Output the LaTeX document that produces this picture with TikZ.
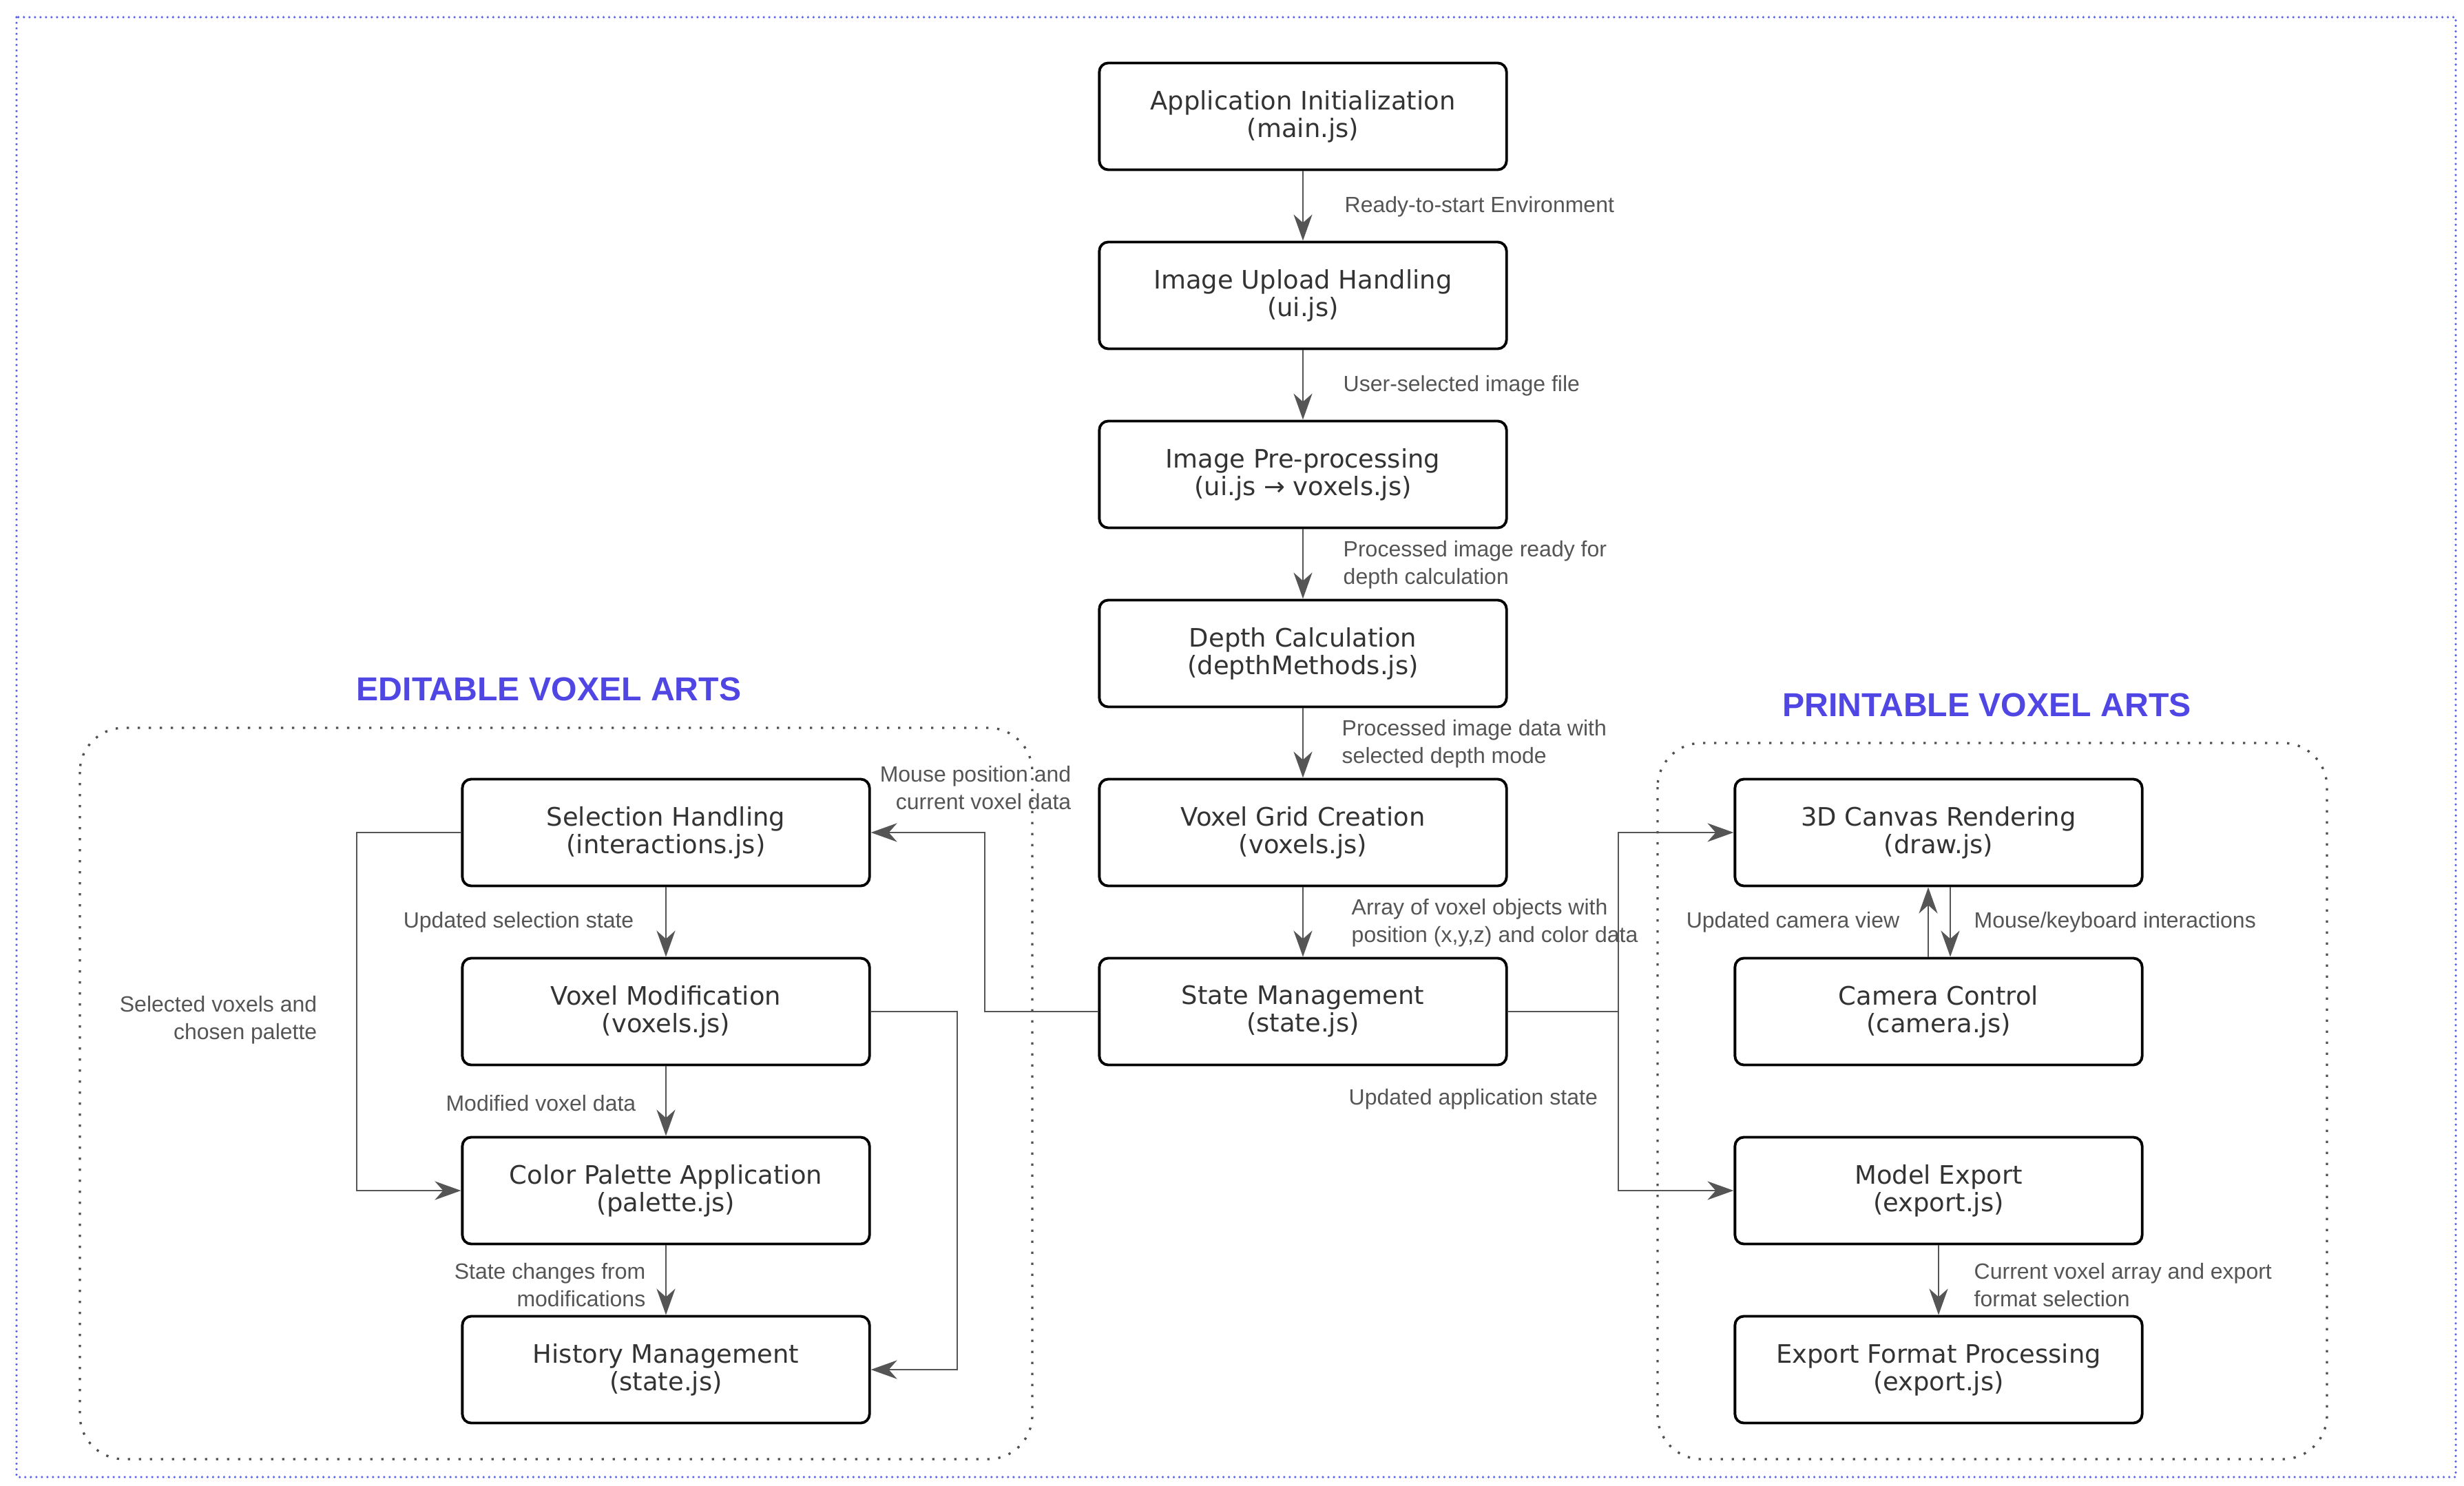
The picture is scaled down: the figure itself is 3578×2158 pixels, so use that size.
\documentclass[tikz,border=0pt]{standalone}
\usepackage{fontspec}
\setmainfont{DejaVu Sans}
\newfontfamily\labelfont{Liberation Sans}
\usetikzlibrary{arrows.meta}
\definecolor{edgegray}{RGB}{85,85,85}
\definecolor{nodetext}{RGB}{51,51,51}
\definecolor{labeltext}{RGB}{85,85,85}
\definecolor{titleblue}{RGB}{80,70,228}
\definecolor{frameblue}{RGB}{85,95,240}
\definecolor{groupgray}{RGB}{80,80,80}
\begin{document}
\begin{tikzpicture}[x=0.01cm,y=-0.01cm,
  module/.style={draw=black, line width=1.1pt, rounded corners=0.13cm, fill=white,
    minimum width=5.91cm, minimum height=1.55cm, align=center, inner sep=0pt,
    text=nodetext, font=\fontsize{10.5}{11.4}\selectfont},
  flow/.style={draw=edgegray, line width=0.8pt,
    -{Stealth[length=10.8pt,width=7.7pt,inset=3.4pt]}},
  lbl/.style={inner sep=0pt, text=labeltext, font=\labelfont\fontsize{9.1}{11.3}\selectfont},
  lblL/.style={lbl, anchor=west, align=left},
  lblR/.style={lbl, anchor=east, align=right},
  grouptitle/.style={inner sep=0pt, text=titleblue, font=\labelfont\bfseries\fontsize{13.7}{16}\selectfont},
  groupframe/.style={draw=groupgray, line width=0.95pt, dash pattern=on 0.95pt off 3.6pt, rounded corners=0.64cm}
]
\useasboundingbox (0,0) rectangle (3578,2158);

% outer frame
\draw[frameblue, line width=1pt, line cap=round, dash pattern=on 0pt off 2.28pt]
  (24,25) rectangle (3566,2145);

% groups
\draw[groupframe] (116,1057) rectangle (1499,2119);
\draw[groupframe] (2407,1079) rectangle (3379,2119);
\node[grouptitle] (tEdit) at (797,1001) {EDITABLE VOXEL ARTS};
\node[grouptitle] (tPrint) at (2885,1024) {PRINTABLE VOXEL ARTS};

% main pipeline
\node[module] (init)   at (1892,169)  {Application Initialization\\(main.js)};
\node[module] (upload) at (1892,429)  {Image Upload Handling\\(ui.js)};
\node[module] (prep)   at (1892,689)  {Image Pre-processing\\(ui.js → voxels.js)};
\node[module] (depth)  at (1892,949)  {Depth Calculation\\(depthMethods.js)};
\node[module] (grid)   at (1892,1209) {Voxel Grid Creation\\(voxels.js)};
\node[module] (state)  at (1892,1469) {State Management\\(state.js)};

% editing branch
\node[module] (sel)  at (967,1209) {Selection Handling\\(interactions.js)};
\node[module] (mod)  at (967,1469) {Voxel Modification\\(voxels.js)};
\node[module] (pal)  at (967,1729) {Color Palette Application\\(palette.js)};
\node[module] (hist) at (967,1989) {History Management\\(state.js)};

% rendering / export branch
\node[module] (canvas) at (2815,1209) {3D Canvas Rendering\\(draw.js)};
\node[module] (cam)    at (2815,1469) {Camera Control\\(camera.js)};
\node[module] (export) at (2815,1729) {Model Export\\(export.js)};
\node[module] (fmt)    at (2815,1989) {Export Format Processing\\(export.js)};

% pipeline connectors
\draw[flow] (init) -- (upload);
\draw[flow] (upload) -- (prep);
\draw[flow] (prep) -- (depth);
\draw[flow] (depth) -- (grid);
\draw[flow] (grid) -- (state);

\node[lblL] (l1) at (1952,300)  {Ready-to-start Environment};
\node[lblL] (l2) at (1950,560)  {User-selected image file};
\node[lblL] (l3) at (1950,820)  {Processed image ready for\\depth calculation};
\node[lblL] (l4) at (1948,1080) {Processed image data with\\selected depth mode};
\node[lblL] (l5) at (1962,1340) {Array of voxel objects with\\position (x,y,z) and color data};

% state to editing branch
\coordinate (jL) at (1430,1469);
\draw[flow] (state.west) -- (jL) |- (sel.east);
\node[lblR] (l6) at (1556,1144) {Mouse position and\\current voxel data};

% state to rendering / export branch
\coordinate (jR) at (2350,1469);
\draw[flow] (state.east) -- (jR) |- (canvas.west);
\draw[flow] (jR) |- (export.west);
\node[lblL] (l7) at (1958,1596) {Updated application state};

% editing branch connectors
\draw[flow] (sel) -- (mod);
\draw[flow] (mod) -- (pal);
\draw[flow] (pal) -- (hist);
\coordinate (bL) at (518,0);
\draw[flow] (sel.west) -- (sel.west -| bL) |- (pal.west);
\coordinate (bM) at (1390,0);
\draw[flow] (mod.east) -- (mod.east -| bM) |- (hist.east);

\node[lblR] (l8)  at (921,1339)  {Updated selection state};
\node[lblR] (l9)  at (924,1602)  {Modified voxel data};
\node[lblR] (l10) at (938,1866)  {State changes from\\modifications};
\node[lblR] (l11) at (461,1481)  {Selected voxels and\\chosen palette};

% rendering / export connectors
\draw[flow] ([xshift=-0.15cm]cam.north) -- ([xshift=-0.15cm]canvas.south);
\draw[flow] ([xshift=0.17cm]canvas.south) -- ([xshift=0.17cm]cam.north);
\draw[flow] (export) -- (fmt);

\node[lblR] (l12) at (2759,1339) {Updated camera view};
\node[lblL] (l13) at (2866,1339) {Mouse/keyboard interactions};
\node[lblL] (l14) at (2866,1866) {Current voxel array and export\\format selection};
\end{tikzpicture}
\end{document}
